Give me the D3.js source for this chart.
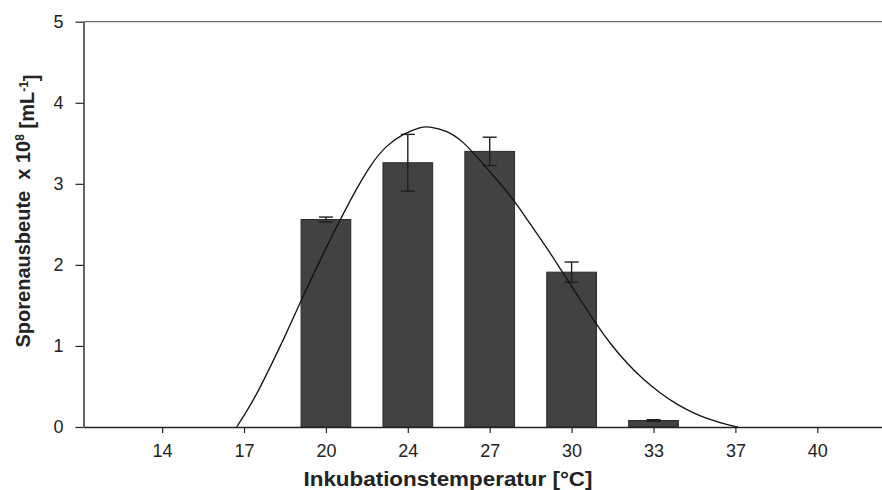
<!DOCTYPE html>
<html>
<head>
<meta charset="utf-8">
<script src="https://cdn.jsdelivr.net/npm/d3@7"></script>
<style>
  body { margin: 0; background: #fff; }
  text { font-family: Arial, "Liberation Sans", sans-serif; }
</style>
</head>
<body>
<svg id="chart" width="882" height="490"></svg>
<script>
// category labels (temperature, °C)
var temps = ["14", "17", "20", "24", "27", "30", "33", "37", "40"];

// measured spore yield (x 10^8 / mL) by category index
var barIdx = [2, 3, 4, 5, 6];
var barVal = [2.56, 3.26, 3.40, 1.91, 0.08];
var barErr = [0.03, 0.35, 0.175, 0.125, 0.01];

// fitted curve (x = category position, y = yield)
var fitPos = [0.91, 1.12, 1.32, 1.52, 1.70, 1.93, 2.13, 2.34, 2.54, 2.74, 2.95, 3.15, 3.25,
              3.48, 3.68, 3.88, 4.09, 4.31, 4.49, 4.70, 4.90, 5.10, 5.30, 5.47, 5.67, 5.88,
              6.08, 6.28, 6.49, 6.69, 6.89, 7.03];
var fitVal = [0.00, 0.33, 0.74, 1.16, 1.57, 2.06, 2.47, 2.88, 3.23, 3.48, 3.62, 3.70, 3.71,
              3.66, 3.52, 3.29, 3.05, 2.78, 2.51, 2.21, 1.89, 1.58, 1.27, 1.03, 0.79, 0.58,
              0.42, 0.28, 0.17, 0.09, 0.03, 0.00];

var yTicks = [0, 1, 2, 3, 4, 5];

var svg = d3.select("#chart");

var x = d3.scaleLinear()
    .domain([-0.96, 8.79])
    .range([83.5, 882]);

var y = d3.scaleLinear()
    .domain([0, 5])
    .range([427, 21.7]);

var halfBar = 0.3035;

// top frame line
svg.append("line")
    .attr("x1", x.range()[0]).attr("x2", x.range()[1])
    .attr("y1", y(5)).attr("y2", y(5))
    .attr("stroke", "#6b6b6b")
    .attr("stroke-width", 1.3);

// bars
var bars = barIdx.map(function(d, i) {
  return { idx: d, val: barVal[i], err: barErr[i] };
});

svg.append("g").selectAll("rect")
    .data(bars)
  .enter().append("rect")
    .attr("x", function(d) { return x(d.idx - halfBar); })
    .attr("width", function(d) { return x(d.idx + halfBar) - x(d.idx - halfBar); })
    .attr("y", function(d) { return y(d.val); })
    .attr("height", function(d) { return y(0) - y(d.val); })
    .attr("fill", "#424242")
    .attr("stroke", "#2a2a2a")
    .attr("stroke-width", 1);

// error bars
var eb = svg.append("g")
    .attr("stroke", "#1e1e1e")
    .attr("stroke-width", 1.4)
    .selectAll("g")
    .data(bars)
  .enter().append("g");

eb.append("line")
    .attr("x1", function(d) { return x(d.idx); })
    .attr("x2", function(d) { return x(d.idx); })
    .attr("y1", function(d) { return y(d.val + d.err); })
    .attr("y2", function(d) { return y(d.val - d.err); });

eb.selectAll(".cap")
    .data(function(d) { return [d.val + d.err, d.val - d.err].map(function(v) { return { idx: d.idx, v: v }; }); })
  .enter().append("line")
    .attr("class", "cap")
    .attr("x1", function(d) { return x(d.idx) - 7; })
    .attr("x2", function(d) { return x(d.idx) + 7; })
    .attr("y1", function(d) { return y(d.v); })
    .attr("y2", function(d) { return y(d.v); });

// fitted curve
var line = d3.line()
    .x(function(d) { return x(d[0]); })
    .y(function(d) { return y(d[1]); })
    .curve(d3.curveBasis);

svg.append("path")
    .datum(fitPos.map(function(p, i) { return [p, fitVal[i]]; }))
    .attr("fill", "none")
    .attr("stroke", "#111")
    .attr("stroke-width", 1.3)
    .attr("d", line);

// axes
var xAxis = svg.append("g")
    .attr("transform", "translate(0," + y(0) + ")")
    .call(d3.axisBottom(x)
      .tickValues(d3.range(temps.length))
      .tickFormat(function(i) { return temps[i]; })
      .tickSize(6)
      .tickPadding(11)
      .tickSizeOuter(0));

var yAxis = svg.append("g")
    .attr("transform", "translate(" + x.range()[0] + ",0)")
    .call(d3.axisLeft(y)
      .tickValues(yTicks)
      .tickFormat(d3.format("d"))
      .tickSize(8)
      .tickPadding(12)
      .tickSizeOuter(0));

[xAxis, yAxis].forEach(function(a) {
  a.select(".domain").attr("stroke", "#222").attr("stroke-width", 1.4);
  a.selectAll(".tick line").attr("stroke", "#222").attr("stroke-width", 1.2);
  a.selectAll(".tick text")
    .attr("fill", "#222")
    .style("font-size", "18px")
    .style("font-family", "Arial, 'Liberation Sans', sans-serif");
});

// axis titles
svg.append("text")
    .attr("x", 448)
    .attr("y", 486)
    .attr("text-anchor", "middle")
    .attr("fill", "#222")
    .attr("textLength", 289)
    .attr("lengthAdjust", "spacingAndGlyphs")
    .style("font-size", "20px")
    .style("font-weight", "bold")
    .text("Inkubationstemperatur [°C]");

var yt = svg.append("text")
    .attr("transform", "translate(30,211) rotate(-90)")
    .attr("text-anchor", "middle")
    .attr("fill", "#222")
    .style("white-space", "pre")
    .style("font-size", "20px")
    .style("font-weight", "bold");
yt.append("tspan").text("Sporenausbeute  x 10");
yt.append("tspan").attr("dy", "-0.5em").style("font-size", "12px").text("8");
yt.append("tspan").attr("dy", "0.5em").text(" [mL");
yt.append("tspan").attr("dy", "-0.5em").style("font-size", "12px").text("-1");
yt.append("tspan").attr("dy", "0.5em").text("]");
</script>
</body>
</html>
